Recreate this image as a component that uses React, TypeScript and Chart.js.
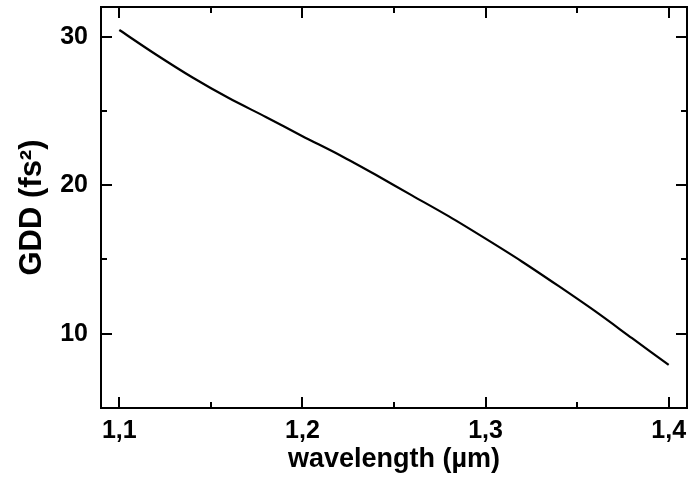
import React, { useEffect, useRef } from "react";
import { Chart, registerables } from "chart.js";

Chart.register(...registerables);

const wavelength = [1.10, 1.12, 1.14, 1.16, 1.18, 1.20, 1.22, 1.24, 1.26, 1.28, 1.30, 1.32, 1.34, 1.36, 1.38, 1.40];
const gdd = [30.45, 28.8, 27.25, 25.85, 24.6, 23.3, 22.05, 20.7, 19.3, 17.9, 16.4, 14.85, 13.2, 11.5, 9.7, 7.9];

const xMajorTicks = [1.1, 1.2, 1.3, 1.4];
const xMinorTicks = [1.15, 1.25, 1.35];
const yMajorTicks = [10, 20, 30];
const yMinorTicks = [15, 25];

const xTitle = "wavelength (µm)";
const yTitle = "GDD (fs²)";

const FONT = "Arial, 'Liberation Sans', sans-serif";

const frameTicks = {
  id: "frameTicks",
  afterDraw(chart: any) {
    const { ctx, chartArea: a, scales } = chart;
    const xs = scales.x;
    const ys = scales.y;
    ctx.save();
    ctx.strokeStyle = "#000";
    ctx.lineWidth = 2;
    ctx.strokeRect(a.left, a.top, a.right - a.left, a.bottom - a.top);
    const drawX = (vals: number[], len: number) => {
      vals.forEach((v) => {
        const px = Math.round(xs.getPixelForValue(v));
        ctx.beginPath();
        ctx.moveTo(px, a.bottom);
        ctx.lineTo(px, a.bottom - len);
        ctx.moveTo(px, a.top);
        ctx.lineTo(px, a.top + len);
        ctx.stroke();
      });
    };
    const drawY = (vals: number[], len: number) => {
      vals.forEach((v) => {
        const py = Math.round(ys.getPixelForValue(v));
        ctx.beginPath();
        ctx.moveTo(a.left, py);
        ctx.lineTo(a.left + len, py);
        ctx.moveTo(a.right, py);
        ctx.lineTo(a.right - len, py);
        ctx.stroke();
      });
    };
    drawX(xMajorTicks, 11);
    drawX(xMinorTicks, 6);
    drawY(yMajorTicks, 11);
    drawY(yMinorTicks, 6);
    ctx.restore();
  },
};

export default function App() {
  const ref = useRef<HTMLCanvasElement | null>(null);
  useEffect(() => {
    if (!ref.current) return;
    const chart = new Chart(ref.current, {
      type: "line",
      data: {
        datasets: [
          {
            data: wavelength.map((x, i) => ({ x, y: gdd[i] })),
            borderColor: "#000",
            borderWidth: 2.2,
            pointRadius: 0,
            tension: 0.3,
            fill: false,
          },
        ],
      },
      options: {
        animation: false,
        responsive: false,
        devicePixelRatio: 1,
        layout: { padding: { top: 7, right: 4, left: 0, bottom: 0 } },
        plugins: { legend: { display: false }, tooltip: { enabled: false } },
        scales: {
          x: {
            type: "linear",
            min: 1.09,
            max: 1.41,
            grid: { display: false, drawTicks: false },
            border: { display: false },
            afterBuildTicks: (s: any) => {
              s.ticks = xMajorTicks.map((v) => ({ value: v }));
            },
            afterFit: (s: any) => {
              s.height = 75;
              s.paddingLeft = 0;
              s.paddingRight = 0;
            },
            ticks: {
              color: "#000",
              padding: 8,
              maxRotation: 0,
              font: { family: FONT, size: 25, weight: "bold" },
              callback: (v: any) => Number(v).toFixed(1).replace(".", ","),
            },
            title: {
              display: true,
              text: xTitle,
              color: "#000",
              padding: { top: 0, bottom: 7 },
              font: { family: FONT, size: 27, weight: "bold" },
            },
          },
          y: {
            type: "linear",
            min: 5,
            max: 32,
            grid: { display: false, drawTicks: false },
            border: { display: false },
            afterBuildTicks: (s: any) => {
              s.ticks = yMajorTicks.map((v) => ({ value: v }));
            },
            afterFit: (s: any) => {
              s.width = 101;
              s.paddingTop = 0;
              s.paddingBottom = 0;
            },
            ticks: {
              color: "#000",
              padding: 13,
              font: { family: FONT, size: 25, weight: "bold" },
              callback: (v: any) => String(v),
            },
            title: {
              display: true,
              text: yTitle,
              color: "#000",
              padding: { top: 14, bottom: 0 },
              font: { family: FONT, size: 31, weight: "bold" },
            },
          },
        },
      },
      plugins: [frameTicks],
    } as any);
    return () => chart.destroy();
  }, []);
  return (
    <canvas
      ref={ref}
      width={691}
      height={483}
      style={{ position: "absolute", left: 0, top: 0, width: 691, height: 483 }}
    />
  );
}
